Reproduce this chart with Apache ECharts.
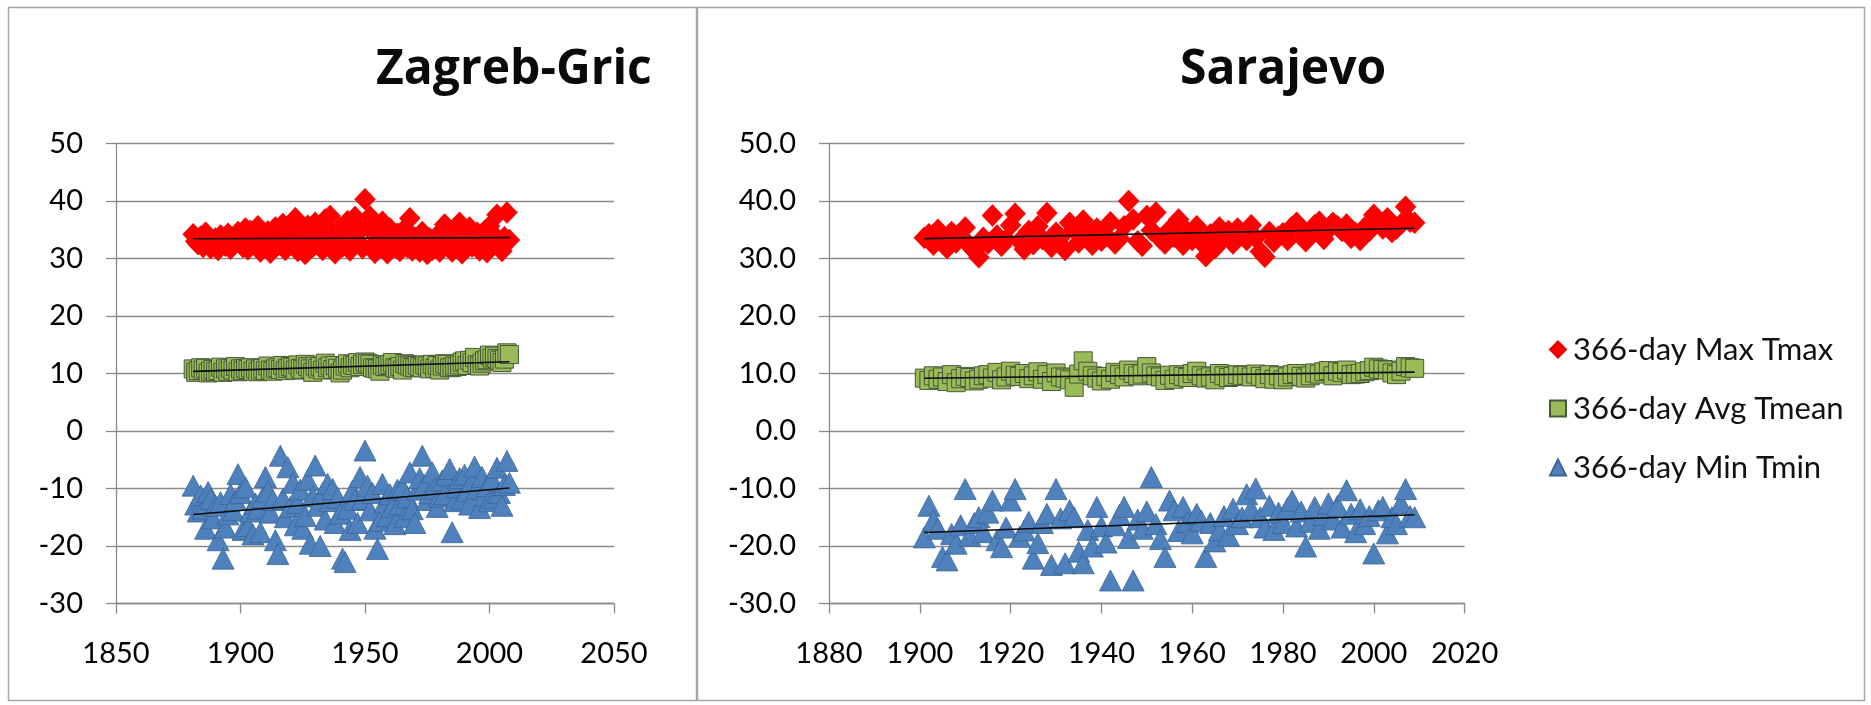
<!DOCTYPE html>
<html>
<head>
<meta charset="utf-8">
<style>
html,body{margin:0;padding:0;background:#fff;}
#c{width:1871px;height:705px;}
</style>
<script src="https://cdn.jsdelivr.net/npm/echarts@6/dist/echarts.min.js"></script>
</head>
<body>
<div id="c"></div>
<script>
// ---------------- DATA ----------------
const seriesNames = ['366-day Max Tmax', '366-day Avg Tmean', '366-day Min Tmin'];
const titles = ['Zagreb-Gric', 'Sarajevo'];

// Zagreb-Gric, 1881-2008
const zagStartYear = 1881;
const zagTmax = [
  34.2, 33.0, 32.5, 33.8, 32.0, 34.5, 33.2, 31.8, 32.6, 33.5,
  31.5, 34.0, 33.0, 32.2, 34.3, 31.7, 33.4, 32.8, 34.6, 33.1,
  32.0, 35.2, 31.6, 34.8, 33.3, 32.4, 35.6, 31.2, 33.9, 32.6,
  34.7, 31.0, 33.5, 35.4, 32.3, 34.0, 36.0, 31.5, 33.0, 35.1,
  32.8, 37.0, 31.3, 34.4, 33.2, 30.8, 35.7, 33.6, 32.0, 36.2,
  33.0, 35.0, 31.5, 36.8, 32.4, 37.4, 34.2, 30.9, 33.7, 35.3,
  32.1, 34.6, 36.5, 31.4, 35.8, 37.2, 33.0, 34.9, 31.8, 40.3,
  35.5, 37.3, 32.2, 31.0, 34.3, 33.6, 36.4, 32.5, 30.9, 35.2,
  33.4, 32.0, 34.3, 31.3, 32.7, 35.2, 32.0, 37.0, 31.4, 33.6,
  33.1, 31.2, 34.6, 32.2, 30.8, 33.5, 31.5, 31.9, 34.0, 31.2,
  32.4, 35.9, 35.0, 32.6, 31.2, 33.8, 32.0, 36.2, 30.9, 33.3,
  33.6, 35.4, 32.1, 33.2, 34.5, 31.4, 32.5, 34.8, 31.1, 35.6,
  32.3, 34.0, 37.6, 32.8, 31.3, 33.7, 38.0, 33.2
];
const zagTmean = [
  10.8, 10.2, 10.5, 11.0, 10.6, 10.9, 10.1, 10.4, 10.7, 10.3,
  10.5, 11.1, 10.2, 10.8, 10.4, 10.9, 10.6, 11.2, 10.3, 10.8,
  10.5, 10.9, 10.7, 11.0, 10.4, 10.8, 10.3, 10.6, 10.9, 10.5,
  11.3, 10.6, 10.4, 10.8, 11.0, 10.7, 11.4, 10.5, 10.9, 11.2,
  11.1, 10.6, 11.5, 10.9, 10.7, 11.6, 11.2, 10.8, 10.2, 11.3,
  10.9, 11.2, 10.6, 11.8, 11.0, 11.3, 10.7, 11.4, 10.9, 10.1,
  10.6, 11.3, 11.7, 11.0, 11.5, 11.4, 11.9, 11.2, 11.6, 12.0,
  11.8, 11.6, 11.0, 10.9, 10.8, 10.4, 11.5, 11.2, 11.4, 11.6,
  11.9, 11.0, 10.9, 11.2, 10.6, 11.7, 11.5, 11.3, 11.1, 11.0,
  11.4, 11.2, 11.0, 11.5, 11.3, 10.8, 11.6, 10.9, 11.4, 10.6,
  11.3, 11.7, 11.6, 11.0, 11.1, 11.3, 11.2, 11.5, 12.0, 12.2,
  11.4, 12.3, 11.9, 12.8, 11.5, 11.3, 11.8, 12.2, 12.4, 13.2,
  12.7, 13.0, 12.6, 12.3, 11.9, 12.5, 13.6, 13.3
];
const zagTmin = [
  -9.5, -12.8, -14.0, -11.2, -13.5, -17.0, -10.6, -11.8, -15.2, -13.0,
  -19.0, -12.4, -22.2, -16.8, -14.5, -11.0, -13.8, -12.0, -7.5, -10.8,
  -17.2, -9.8, -16.5, -14.0, -18.0, -12.6, -13.5, -17.6, -11.5, -8.0,
  -10.5, -14.2, -12.0, -19.0, -21.4, -4.3, -11.8, -15.0, -6.3, -13.2,
  -9.0, -16.4, -12.5, -10.2, -17.0, -14.8, -8.5, -19.6, -11.4, -6.0,
  -13.0, -20.0, -10.8, -15.4, -9.2, -12.2, -10.1, -16.0, -11.6, -14.4,
  -22.2, -22.8, -13.5, -17.2, -10.4, -12.0, -16.0, -8.0, -11.8, -3.4,
  -9.5, -13.8, -10.8, -17.0, -20.5, -15.6, -9.2, -12.4, -14.8, -11.0,
  -13.2, -16.2, -10.2, -12.8, -9.8, -15.0, -11.5, -7.2, -13.6, -16.0,
  -10.2, -8.2, -4.3, -9.4, -12.0, -10.8, -7.2, -10.0, -13.2, -11.4,
  -8.6, -11.0, -7.6, -6.6, -17.6, -12.2, -9.8, -8.2, -11.8, -7.6,
  -10.4, -12.8, -8.8, -6.2, -10.0, -13.4, -8.0, -11.2, -9.6, -12.2,
  -8.4, -11.6, -6.4, -10.8, -13.0, -9.4, -5.2, -9.0
];

// Sarajevo, 1901-2009
const sarStartYear = 1901;
const sarTmax = [
  33.6, 34.2, 32.4, 35.0, 33.2, 31.8, 34.6, 32.8, 33.9, 35.4,
  32.2, 31.4, 30.2, 33.6, 32.6, 37.5, 34.0, 32.2, 33.3, 35.8,
  37.8, 33.0, 31.6, 34.8, 32.5, 35.6, 33.4, 37.9, 32.0, 34.5,
  33.7, 31.5, 36.2, 35.0, 32.8, 36.6, 34.4, 32.4, 35.2, 33.1,
  34.0, 36.3, 32.6, 33.5, 35.6, 40.0, 36.8, 33.0, 32.2, 37.4,
  34.9, 38.0, 33.4, 32.6, 35.0, 33.8, 36.8, 32.4, 34.6, 33.2,
  35.6, 32.8, 30.4, 34.2, 31.8, 35.4, 33.6, 34.8, 32.6, 35.2,
  34.0, 33.2, 35.8, 33.6, 31.2, 30.3, 34.6, 32.9, 33.8, 34.4,
  33.2, 35.5, 36.2, 34.6, 33.0, 34.1, 35.8, 36.4, 33.4, 35.0,
  36.2, 35.6, 34.8, 35.9, 33.6, 34.4, 33.2, 35.4, 34.8, 37.6,
  36.4, 35.2, 37.0, 34.6, 35.2, 36.0, 39.0, 36.4, 36.2
];
const sarTmean = [
  9.2, 8.8, 9.6, 9.0, 9.4, 8.6, 9.8, 8.4, 9.1, 9.5,
  9.3, 8.7, 9.0, 9.6, 9.8, 9.2, 10.2, 8.9, 9.4, 10.4,
  9.7, 9.5, 10.0, 9.1, 9.6, 10.3, 9.0, 9.8, 8.6, 10.1,
  9.4, 9.2, 8.9, 7.6, 9.9, 12.2, 10.4, 9.6, 9.2, 8.7,
  9.5, 9.0, 10.2, 9.8, 9.4, 10.6, 10.0, 9.6, 9.9, 11.2,
  10.1, 9.6, 9.4, 8.8, 9.7, 9.0, 9.8, 9.5, 9.3, 10.0,
  10.4, 9.6, 9.2, 9.4, 8.9, 10.0, 9.6, 9.3, 9.5, 9.8,
  9.6, 9.7, 9.4, 9.9, 9.5, 9.1, 9.8, 9.0, 9.6, 8.9,
  9.4, 9.8, 10.0, 9.5, 9.2, 9.6, 10.1, 9.9, 10.3, 10.5,
  9.6, 10.4, 10.2, 10.6, 9.8, 9.9, 10.0, 10.3, 10.5, 11.1,
  10.8, 10.7, 10.6, 10.1, 9.8, 10.4, 11.2, 11.0, 10.9
];
const sarTmin = [
  -18.5, -13.0, -15.6, -17.0, -21.9, -22.5, -17.9, -19.6, -16.4, -10.1,
  -18.2, -16.0, -15.0, -17.6, -14.2, -12.1, -19.0, -20.2, -16.8, -12.1,
  -10.1, -18.4, -17.3, -15.8, -22.2, -19.5, -16.0, -14.4, -23.3, -10.1,
  -15.2, -23.0, -13.8, -15.0, -21.0, -23.0, -17.2, -20.1, -13.2, -16.6,
  -19.4, -26.0, -16.4, -14.6, -13.2, -18.6, -26.0, -15.4, -17.0, -14.0,
  -8.0, -16.2, -18.8, -21.9, -12.1, -13.8, -17.4, -13.2, -15.8, -17.8,
  -14.4, -15.6, -21.9, -16.0, -19.2, -17.3, -14.8, -18.2, -13.5, -16.2,
  -15.0, -11.0, -13.6, -10.0, -15.0, -16.8, -13.0, -17.2, -14.2, -16.0,
  -13.4, -12.1, -16.6, -14.0, -20.1, -15.8, -13.2, -17.0, -14.6, -12.6,
  -15.4, -13.0, -16.8, -10.3, -14.4, -17.6, -13.6, -16.2, -14.8, -21.3,
  -13.8, -13.2, -17.8, -15.0, -16.2, -12.6, -10.1, -14.8, -15.0
];

// axis ticks
const zagX = { min: 1850, max: 2050, interval: 50 };
const sarX = { min: 1880, max: 2020, interval: 20 };
const yTicks = { min: -30, max: 50, interval: 10 };

// ---------------- HELPERS ----------------
function pairs(start, vals) { return vals.map((v, i) => [start + i, v]); }
function trend(pts) {
  const n = pts.length;
  let sx = 0, sy = 0, sxx = 0, sxy = 0;
  pts.forEach(p => { sx += p[0]; sy += p[1]; sxx += p[0] * p[0]; sxy += p[0] * p[1]; });
  const b = (n * sxy - sx * sy) / (n * sxx - sx * sx);
  const a = (sy - b * sx) / n;
  const x0 = pts[0][0], x1 = pts[n - 1][0];
  return [[x0, a + b * x0], [x1, a + b * x1]];
}

const AXC = '#8a8a8a';
const LBL = { fontFamily: 'Lato', fontSize: 29, color: '#000000' };

function xAxisCfg(gi, t) {
  return {
    type: 'value', gridIndex: gi, min: t.min, max: t.max, interval: t.interval,
    axisLine: { show: true, onZero: false, lineStyle: { color: AXC, width: 1.3 } },
    axisTick: { show: true, length: 10, lineStyle: { color: AXC, width: 1.3 } },
    splitLine: { show: false },
    axisLabel: Object.assign({ margin: 36, showMinLabel: true, showMaxLabel: true, formatter: v => String(v) }, LBL)
  };
}
function yAxisCfg(gi, fmt) {
  return {
    type: 'value', gridIndex: gi, min: yTicks.min, max: yTicks.max, interval: yTicks.interval,
    axisLine: { show: true, onZero: false, lineStyle: { color: AXC, width: 1.3 } },
    axisTick: { show: true, length: 10, lineStyle: { color: AXC, width: 1.3 } },
    splitLine: { show: true, lineStyle: { color: AXC, width: 1.3 } },
    axisLabel: Object.assign({ margin: 33, formatter: fmt, showMinLabel: true, showMaxLabel: true }, LBL)
  };
}

const styles = [
  { symbol: 'diamond', symbolSize: [21, 22], itemStyle: { color: '#ff0000', borderColor: '#e00000', borderWidth: 0.5, opacity: 1 } },
  { symbol: 'rect', symbolSize: [18, 18], itemStyle: { color: '#9bbb59', borderColor: '#44593a', borderWidth: 1, opacity: 1 } },
  { symbol: 'triangle', symbolSize: [22, 21], itemStyle: { color: '#4f81bd', borderColor: '#3a6496', borderWidth: 0.8, opacity: 1 } }
];

const stations = [
  { start: zagStartYear, vals: [zagTmax, zagTmean, zagTmin] },
  { start: sarStartYear, vals: [sarTmax, sarTmean, sarTmin] }
];

const series = [];
stations.forEach((st, gi) => {
  st.vals.forEach((vals, si) => {
    series.push(Object.assign({
      type: 'scatter', name: seriesNames[si], xAxisIndex: gi, yAxisIndex: gi,
      data: pairs(st.start, vals), z: 2 + si, silent: true
    }, styles[si]));
  });
  st.vals.forEach((vals) => {
    series.push({
      type: 'line', xAxisIndex: gi, yAxisIndex: gi, data: trend(pairs(st.start, vals)),
      symbol: 'none', lineStyle: { color: '#0a0a0a', width: 1.6 }, z: 10, silent: true
    });
  });
});

const titleStyle = { fontFamily: 'Open Sans', fontWeight: 'bold', fontSize: 48, lineHeight: 48, color: '#0a0a0a' };

const option = {
  backgroundColor: '#ffffff',
  animation: false,
  title: [
    { text: titles[0], left: 376, top: 46, textStyle: titleStyle, padding: 0 },
    { text: titles[1], left: 1180, top: 46, textStyle: titleStyle, padding: 0 }
  ],
  grid: [
    { left: 116, top: 143.5, width: 498, height: 460 },
    { left: 829, top: 143.5, width: 635.6, height: 460 }
  ],
  xAxis: [xAxisCfg(0, zagX), xAxisCfg(1, sarX)],
  yAxis: [yAxisCfg(0, v => String(v)), yAxisCfg(1, v => v.toFixed(1))],
  legend: {
    orient: 'vertical', left: 1549, top: 334, itemWidth: 16, itemHeight: 16, itemGap: 28,
    padding: 0,
    textStyle: { fontFamily: 'Lato', fontSize: 31, lineHeight: 31, color: '#111111', padding: [0, 0, 0, 2] },
    data: [
      { name: seriesNames[0], icon: 'diamond' },
      { name: seriesNames[1], icon: 'rect' },
      { name: seriesNames[2], icon: 'triangle' }
    ],
    selectedMode: false
  },
  graphic: [
    { type: 'rect', shape: { x: 8.5, y: 7.5, width: 688, height: 693 }, style: { fill: 'none', stroke: '#a6a6a6', lineWidth: 1.5 }, silent: true, z: -10 },
    { type: 'rect', shape: { x: 697.5, y: 7.5, width: 1167, height: 693 }, style: { fill: 'none', stroke: '#a6a6a6', lineWidth: 1.5 }, silent: true, z: -10 }
  ],
  series: series
};

const chart = echarts.init(document.getElementById('c'), null, { renderer: 'canvas' });
chart.setOption(option);
</script>
</body>
</html>
